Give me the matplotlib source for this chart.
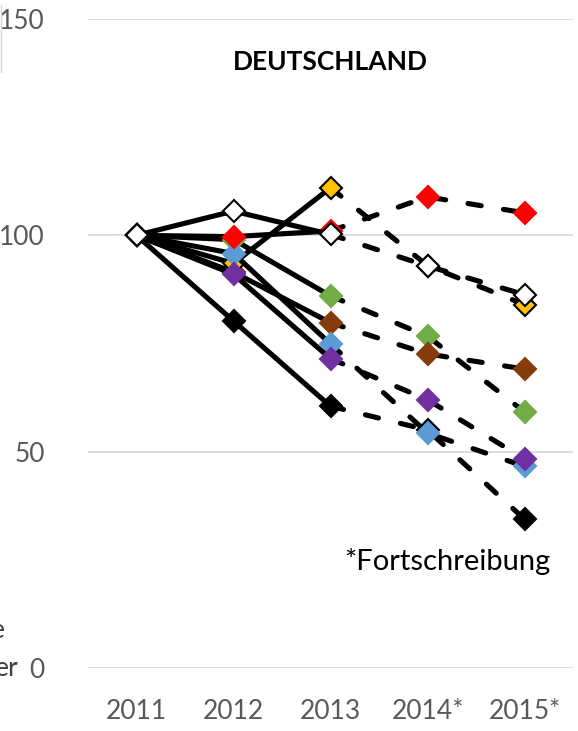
import matplotlib
matplotlib.use('Agg')
from matplotlib import pyplot as plt
from matplotlib.lines import Line2D

plt.rcParams['font.family'] = ['Lato', 'DejaVu Sans']

years = ['2011', '2012', '2013', '2014*', '2015*']

# Index 2011 = 100, Werte ab 2014 fortgeschrieben
green = [100, 99, 86, 76.7, 59.2]
brown = [100, 91.5, 79.8, 72.6, 69.1]
black = [100, 80.2, 60.5, 55, 34.4]
yellow = [100, 93.5, 111, 93, 84]
blue = [100, 95.8, 74.9, 54.3, 46.6]
red = [100, 99.7, 101, 108.9, 105.2]
purple = [100, 91, 71.5, 62, 48.3]
white = [100, 105.6, 100.2, 92.9, 86.3]

series = [
    (green, '#70ad47', '#70ad47'),
    (brown, '#843c0c', '#843c0c'),
    (black, 'black', 'black'),
    (yellow, '#ffc000', 'black'),
    (blue, '#5b9bd5', '#5b9bd5'),
    (red, '#ff0000', '#ff0000'),
    (purple, '#7030a0', '#7030a0'),
    (white, 'white', 'black'),
]

fig = plt.figure(figsize=(5.78, 7.31), dpi=100)
ax = fig.add_axes([88 / 578, 63 / 731, 485 / 578, 649 / 731])

x = list(range(len(years)))
z = 3
for vals, fc, ec in series:
    # gemessen: durchgezogen, Fortschreibung: gestrichelt
    ax.plot(x[:3], vals[:3], color='black', lw=3.7, solid_capstyle='round', zorder=z)
    ax.plot(x[2:], vals[2:], color='black', lw=3.7, linestyle=(0, (2.6, 4.4)),
            dash_capstyle='round', zorder=z)
    ax.plot(x, vals, linestyle='none', marker='D', markersize=11,
            markerfacecolor=fc, markeredgecolor=ec, markeredgewidth=1.5, zorder=z + 0.5)
    z += 1

ax.set_xlim(-0.5, 4.5)
ax.set_ylim(0, 150)
ax.set_yticks([0, 50, 100, 150])
ax.set_xticks(x)
ax.set_xticklabels(years)
ax.grid(axis='y', color='#d9d9d9', lw=1.3)
ax.set_axisbelow(True)
for s in ax.spines.values():
    s.set_visible(False)
ax.tick_params(length=0, labelsize=19, labelcolor='#595959')
ax.tick_params(axis='y', pad=31)
ax.tick_params(axis='x', pad=22)

ax.text(2, 140, 'DEUTSCHLAND', ha='center', va='center', fontsize=19, fontweight='bold')
ax.text(2.14, 22.7, '*Fortschreibung', ha='left', va='baseline', fontsize=21, color='black')

# Reste vom Nachbardiagramm am linken Rand
fig.text(5 / 578, 1 - 631 / 731, 'e', ha='right', va='center', fontsize=19, color='#404040')
fig.text(19 / 578, 1 - 669 / 731, 'er', ha='right', va='center', fontsize=19, color='#404040')
fig.add_artist(Line2D([0.5 / 578, 0.5 / 578], [1 - 5 / 731, 1 - 72 / 731],
                      color='#d9d9d9', lw=1, transform=fig.transFigure))

fig.savefig('out.png', dpi=100)
